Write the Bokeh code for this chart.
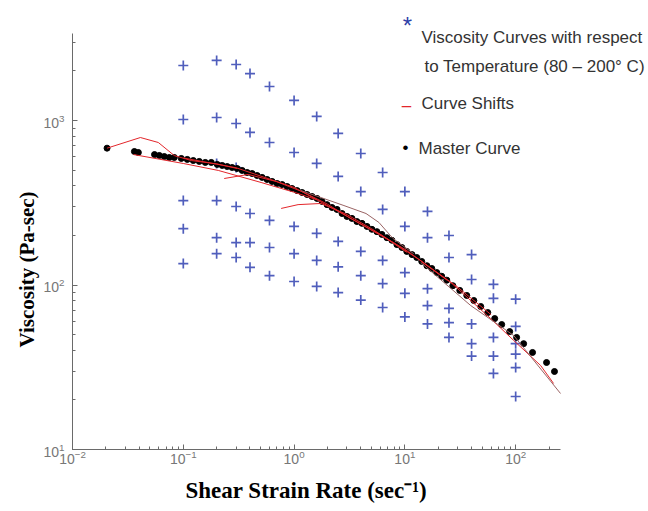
from bokeh.plotting import figure
from bokeh.models import Label, Range1d, Title
from bokeh.embed import file_html
from bokeh.resources import INLINE

# ---- data ----
# temperature viscosity curves (blue crosses): shear rate columns and viscosities
cross_rate = (
    [0.1] * 5 + [0.2] * 6 + [0.3] * 6 + [0.4] * 5 + [0.6] * 5 + [1.0] * 5 +
    [1.6] * 5 + [2.5] * 5 + [4.0] * 5 + [6.3] * 5 + [10.0] * 5 + [16.0] * 5 +
    [25.0] * 5 + [40.0] * 5 + [63.0] * 5 + [100.0] * 6
)
cross_visc = [
    2160, 1014, 326, 220, 135,
    2317, 1043, 548, 326, 194, 155,
    2190, 959, 518, 300, 181, 147,
    1930, 846, 272, 181, 128,
    1610, 735, 247, 169, 114,
    1324, 639, 227, 155, 105,
    1058, 548, 206, 141, 98,
    834, 457, 184, 129, 90,
    630, 370, 160, 114, 81,
    483, 288, 141, 102, 73,
    370, 227, 119, 89, 64,
    280, 194, 95, 75, 58,
    200, 147, 72, 59, 48,
    153, 108, 58, 44, 37,
    101, 83, 48, 37, 29,
    82, 56, 44, 38, 31.5, 21,
]

# master curve (black dots)
master_rate = [
    0.0205, 0.0362, 0.0393, 0.055, 0.0608, 0.0674, 0.0748, 0.083, 0.096, 0.1087,
    0.1231, 0.1394, 0.158, 0.179, 0.2025, 0.2246, 0.249, 0.276, 0.306, 0.34,
    0.377, 0.418, 0.464, 0.515, 0.571, 0.634, 0.703, 0.78, 0.865, 0.959,
    1.064, 1.181, 1.31, 1.453, 1.612, 1.788, 1.983, 2.2, 2.44, 2.71,
    3.0, 3.33, 3.69, 4.1, 4.55, 5.04, 5.59, 6.2, 6.88, 7.63,
    8.47, 9.4, 10.4, 11.6, 12.8, 14.2, 15.8, 17.5, 19.4, 21.5,
    23.9, 27.1, 31.3, 36.2, 41.9, 48.4, 56.0, 64.7, 74.8, 88.3,
    102, 118, 142, 190, 224,
]
master_visc = [
    679, 648, 639, 621, 613, 604, 596, 596, 588, 580,
    571, 564, 556, 556, 541, 533, 525, 518, 511, 497,
    483, 476, 463, 451, 438, 426, 414, 408, 397, 386,
    375, 365, 355, 345, 336, 322, 308, 296, 288, 272,
    261, 254, 243, 237, 227, 218, 211, 203, 194, 187,
    176, 169, 160, 153, 147, 139, 131, 126, 119, 113,
    107, 99, 92.7, 86.4, 80.5, 74, 68, 62.5, 57.5, 52.1,
    48, 44, 38.9, 33.8, 29.8,
]

# curve shifts (red / brownish lines)
shift_a_rate = [0.0205, 0.041, 0.0595, 0.083, 0.118, 0.2, 0.306]
shift_a_visc = [679, 788, 735, 612, 571, 545, 511]
shift_b_rate = [0.0355, 0.1, 0.207, 0.504, 1.02, 1.6]
shift_b_visc = [621, 548, 497, 420, 365, 330]
shift_c_rate = [0.234, 0.385, 0.688, 1.2, 2.0, 3.3, 6.2, 10.4]
shift_c_visc = [444, 470, 426, 368, 310, 252, 200, 158]
shift_d_rate = [0.764, 1.086, 1.75, 2.94, 5.0, 8.4, 14, 24]
shift_d_visc = [292, 308, 313, 270, 220, 176, 140, 107]
shift_e_rate = [1.156, 2.82, 4.46, 5.83, 7.8, 12]
shift_e_visc = [375, 304, 272, 240, 192, 155]
shift_f_rate = [14, 26, 59.5, 96, 168, 220]
shift_f_visc = [139, 103.5, 62.5, 46, 32.4, 25.2]
shift_g_rate = [13.9, 39.3, 96, 254]
shift_g_visc = [137, 75, 49.3, 21.9]
shift_h_rate = [0.1, 0.3, 1.0, 3.0, 10, 30, 60]
shift_h_visc = [592, 516, 392, 262, 165, 97, 66]

# axis extents
x_lo, x_hi = 0.01, 254
y_lo, y_hi = 10, 3380

W, H = 648, 511
FRAME_L, FRAME_B = 72, 449  # page px of frame left / bottom
p = figure(width=W, height=H, x_axis_type="log", y_axis_type="log",
           x_range=Range1d(0.01, 1581), y_range=Range1d(10, 5364),
           output_backend="svg", toolbar_location=None,
           min_border_left=FRAME_L, min_border_right=0,
           min_border_top=0, min_border_bottom=H - FRAME_B)
p.outline_line_color = None
p.grid.visible = False
p.background_fill_color = "white"
p.border_fill_color = "white"

p.xaxis.bounds = (x_lo, x_hi)
p.yaxis.bounds = (y_lo, y_hi)
for ax in (p.xaxis[0], p.yaxis[0]):
    ax.axis_line_color = "#6a6a6a"
    ax.major_tick_line_color = "#6a6a6a"
    ax.minor_tick_line_color = "#6a6a6a"
    ax.major_tick_in = 5
    ax.major_tick_out = 0
    ax.minor_tick_in = 3
    ax.minor_tick_out = 0
    ax.major_label_text_color = "#777777"
    ax.major_label_text_font = "Liberation Sans"
    ax.major_label_text_font_size = "14px"
p.xaxis.major_label_standoff = 0
p.yaxis.major_label_standoff = 8

# axis titles as side-panel titles (so they can be placed like the reference)
p.add_layout(Title(text="Shear Strain Rate (sec\u207b\u00b9)", align="left", offset=113,
                   standoff=18, text_font="Liberation Serif", text_font_style="bold",
                   text_font_size="23px", text_color="black"), "below")
p.add_layout(Title(text="Viscosity (Pa-sec)", align="left", offset=102,
                   standoff=4, text_font="Liberation Serif", text_font_style="bold",
                   text_font_size="21px", text_color="black"), "left")

# blue crosses
p.scatter(cross_rate, cross_visc, marker="cross", size=10,
          line_color="#3d4db5", line_width=1.7, line_alpha=0.9)

# master curve dots
p.scatter(master_rate, master_visc, marker="circle", size=6,
          fill_color="black", line_color="black")

# curve shifts
red = "#e3262b"
brown = "#9a6464"
p.line(shift_h_rate, shift_h_visc, line_color=red, line_width=1)
p.line(shift_a_rate, shift_a_visc, line_color=red, line_width=1)
p.line(shift_b_rate, shift_b_visc, line_color=red, line_width=1)
p.line(shift_c_rate, shift_c_visc, line_color=red, line_width=1)
p.line(shift_d_rate, shift_d_visc, line_color=red, line_width=1)
p.line(shift_e_rate, shift_e_visc, line_color=brown, line_width=1)
p.line(shift_f_rate, shift_f_visc, line_color=red, line_width=1)
p.line(shift_g_rate, shift_g_visc, line_color=brown, line_width=1)


def lab(text, x, y, **kw):
    # x, y in page pixels (top-left origin); screen units are frame-relative
    kw.setdefault("text_baseline", "alphabetic")
    kw.setdefault("text_align", "left")
    p.add_layout(Label(x=x - FRAME_L, y=FRAME_B - y, x_units="screen", y_units="screen",
                       text=text, **kw))


legend_font = "Liberation Sans"
txt = "#333333"
lab("*", 407, 25, text_font=legend_font, text_font_size="24px", text_color="#2f3fa8",
    text_align="center")
lab("Viscosity Curves with respect", 421, 37, text_font=legend_font,
    text_font_size="17px", text_color=txt)
lab("to Temperature (80 \u2013 200\u00b0 C)", 424, 66, text_font=legend_font,
    text_font_size="17px", text_color=txt)
lab("\u2013", 406, 105, text_font=legend_font, text_font_size="17px", text_color=red,
    text_align="center")
lab("Curve Shifts", 421, 103, text_font=legend_font, text_font_size="17px",
    text_color=txt)
lab("\u2022", 405, 147, text_font=legend_font, text_font_size="17px", text_color="black",
    text_align="center")
lab("Master Curve", 418, 148, text_font=legend_font, text_font_size="17px",
    text_color=txt)

open("out.html", "w").write(file_html(p, INLINE))
